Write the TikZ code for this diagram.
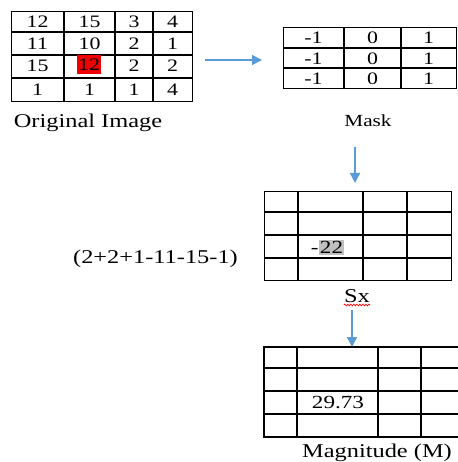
\documentclass[tikz,border=0pt]{standalone}
\usepackage{fontspec}
\setmainfont[FakeStretch=1.25]{Liberation Serif}
\usetikzlibrary{arrows.meta,decorations.pathmorphing}
\definecolor{flow}{RGB}{91,155,213}
\definecolor{hlgray}{RGB}{192,192,192}
\definecolor{hlred}{RGB}{240,0,0}
\begin{document}
\begin{tikzpicture}[x=1pt,y=-1pt,
  tablebox/.style={draw=black,line width=1.4pt,inner sep=0pt,anchor=north west},
  rule/.style={draw=black,line width=1.4pt},
  cell/.style={inner sep=0pt,font=\fontsize{17.5}{21}\selectfont},
  bigcell/.style={inner sep=0pt,font=\fontsize{18.5}{22}\selectfont},
  maskcell/.style={inner sep=0pt,font=\fontsize{17.5}{21}\selectfont},
  caption/.style={inner sep=0pt,anchor=base,font=\fontsize{19.5}{23}\selectfont},
  flowarrow/.style={draw=flow,line width=1.4pt,-{Triangle[width=10pt,length=10pt]}}]
\useasboundingbox (0,0) rectangle (457,462);

% ---------- original image, 4x4 ----------
\node[tablebox,minimum width=181pt,minimum height=90pt] (orig) at (11,11) {};
\foreach \x in {64,115,153} \draw[rule] (\x,11) -- (\x,101);
\foreach \y in {32,55,78} \draw[rule] (11,\y) -- (192,\y);
\node[cell] (o11) at (37.5,21.5) {12};
\node[cell] (o12) at (89.5,21.5) {15};
\node[cell] (o13) at (134,21.5) {3};
\node[cell] (o14) at (172.5,21.5) {4};
\node[cell] (o21) at (37.5,43.5) {11};
\node[cell] (o22) at (89.5,43.5) {10};
\node[cell] (o23) at (134,43.5) {2};
\node[cell] (o24) at (172.5,43.5) {1};
\node[cell] (o31) at (37.5,65.5) {15};
\node[cell,fill=hlred,inner xsep=1pt,inner ysep=3.5pt] (o32) at (89,64.5) {12};
\node[cell] (o33) at (134,65.5) {2};
\node[cell] (o34) at (172.5,65.5) {2};
\node[cell] (o41) at (37.5,89.5) {1};
\node[cell] (o42) at (89.5,89.5) {1};
\node[cell] (o43) at (134,89.5) {1};
\node[cell] (o44) at (172.5,89.5) {4};
\node[caption] (origlabel) at (88,128) {Original Image};

% ---------- mask, 3x3 ----------
\node[tablebox,minimum width=173pt,minimum height=61pt] (mask) at (283,27) {};
\foreach \x in {344,401} \draw[rule] (\x,27) -- (\x,88);
\foreach \y in {48,68} \draw[rule] (283,\y) -- (456,\y);
\foreach \y [count=\r] in {38,58.5,78.5} {
  \node[maskcell] (m\r1) at (313.5,\y) {-1};
  \node[maskcell] (m\r2) at (372.5,\y) {0};
  \node[maskcell] (m\r3) at (428.5,\y) {1};
}
\node[caption,font=\fontsize{17}{20}\selectfont] (masklabel) at (368,127) {Mask};

% ---------- Sx ----------
\node[tablebox,minimum width=187pt,minimum height=89pt] (sx) at (264,191) {};
\foreach \x in {298,363,407} \draw[rule] (\x,191) -- (\x,280);
\foreach \y in {212,235,258} \draw[rule] (264,\y) -- (451,\y);
\node[bigcell,fill=hlgray,inner xsep=1pt,inner ysep=1.5pt] (sxval) at (331.5,247.5) {22};
\node[bigcell,anchor=base east] (sxsign) at (sxval.base west) {-};
\node[caption] (sum) at (155.5,263) {(2+2+1-11-15-1)};
\node[caption] (sxlabel) at (357,302) {Sx};
\draw[red,line width=0.7pt,decorate,decoration={snake,amplitude=0.9pt,segment length=3pt}]
  ([yshift=-3pt]sxlabel.base west) -- ([yshift=-3pt]sxlabel.base east);

% ---------- magnitude ----------
\node[tablebox,draw=none,minimum width=193pt,minimum height=90pt] (mag) at (264,347) {};
\draw[rule] (457.5,347) -- (264,347) -- (264,437) -- (457.5,437);
\foreach \x in {297,378,421} \draw[rule] (\x,347) -- (\x,437);
\foreach \y in {368,391,414} \draw[rule] (264,\y) -- (457.5,\y);
\node[bigcell] (magval) at (338,402.5) {29.73};
\node[caption] (maglabel) at (377,457) {Magnitude (M)};

% ---------- flow arrows ----------
\coordinate (a1s) at (205,60);
\coordinate (a1e) at (262,60);
\coordinate (a2s) at (355,147);
\coordinate (a2e) at (355,183);
\coordinate (a3s) at (352,310);
\draw[flowarrow] (a1s) -- (a1e);
\draw[flowarrow] (a2s) -- (a2e);
\draw[flowarrow] (a3s) -- (mag.north west -| a3s);
\end{tikzpicture}
\end{document}
